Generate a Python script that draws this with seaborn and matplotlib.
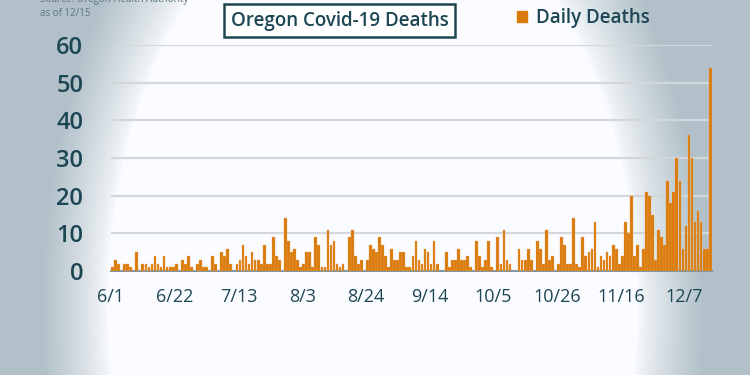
import numpy as np
import pandas as pd
import matplotlib.pyplot as plt
import seaborn as sns

# Daily Covid-19 deaths reported in Oregon, 6/1 through 12/15
deaths = [1, 3, 2, 0, 2, 2, 1, 0, 5, 0, 2, 2, 1, 2, 4, 2, 1, 4, 1, 1, 1,
          2, 0, 3, 2, 4, 1, 0, 2, 3, 1, 1, 0, 4, 2, 0, 5, 4, 6, 2, 0, 2,
          3, 7, 4, 2, 5, 3, 3, 2, 7, 2, 2, 9, 4, 3, 0, 14, 8, 5, 6, 3, 1,
          2, 5, 5, 1, 9, 7, 1, 1, 11, 7, 8, 2, 1, 2, 0, 9, 11, 4, 2, 3, 0,
          3, 7, 6, 5, 9, 7, 4, 1, 6, 3, 3, 5, 5, 1, 1, 4, 8, 3, 2, 6, 5,
          2, 8, 2, 0, 0, 5, 1, 3, 3, 6, 3, 3, 4, 1, 0, 8, 4, 1, 3, 8, 1,
          0, 9, 2, 11, 3, 2, 0, 0, 6, 3, 3, 6, 3, 0, 8, 6, 2, 11, 3, 4, 0,
          2, 9, 7, 2, 2, 14, 2, 1, 9, 4, 5, 6, 13, 1, 4, 3, 5, 4, 7, 6, 2,
          4, 13, 10, 20, 4, 7, 1, 6, 21, 20, 15, 3, 11, 9, 7, 24, 18, 21, 30, 24, 6,
          12, 36, 30, 13, 16, 13, 6, 6, 54]

dates = pd.date_range("2020-06-01", periods=len(deaths), freq="D")
df = pd.DataFrame({"date": dates.strftime("%m-%d"), "deaths": deaths})

orange = "#d97a0b"
teal = "#1d4654"

sns.set_style("white")
plt.rcParams["font.family"] = ["Open Sans", "DejaVu Sans"]

fig = plt.figure(figsize=(7.5, 3.75), dpi=100)

# background vignette: white centre, grey-blue edges
bg = fig.add_axes([0, 0, 1, 1], zorder=0)
yy, xx = np.mgrid[0:375, 0:750]
d = np.sqrt(((xx - 372) / 300.0) ** 2 + ((yy - 310) / 490.0) ** 2)
t = np.clip((d - 0.88) / 0.22, 0, 1) ** 0.8
grey = np.array([0.70, 0.76, 0.79])
img = (1 - t[..., None]) * np.array([0.985, 0.99, 1.0]) + t[..., None] * grey
bg.imshow(img, aspect="auto", extent=[0, 1, 0, 1])
bg.axis("off")

ax = fig.add_axes([0.148, 0.277, 0.801, 0.603], zorder=1)
ax.patch.set_alpha(0)

sns.barplot(data=df, x="date", y="deaths", color=orange, saturation=1,
            width=0.9, edgecolor="#eea55a", linewidth=0.25, ax=ax, zorder=3)

ax.set_xlim(-0.5, len(deaths) - 0.5)
ax.set_ylim(0, 60)
ax.set_yticks(range(0, 61, 10))
ax.yaxis.grid(True, color="#d3d7da", linewidth=1.6, zorder=0)
ax.set_axisbelow(True)

tick_idx = list(range(0, len(deaths), 21))
ax.set_xticks([i - 0.5 for i in tick_idx])
ax.set_xticklabels([f"{dates[i].month}/{dates[i].day}" for i in tick_idx])

for s in ["top", "right", "left"]:
    ax.spines[s].set_visible(False)
ax.spines["bottom"].set_color("#7d97a2")
ax.spines["bottom"].set_linewidth(1.5)
ax.tick_params(axis="x", length=7, width=1.5, color="#7d97a2", labelsize=13,
               labelcolor=teal, pad=5)
ax.tick_params(axis="y", length=0, labelsize=17, labelcolor=teal, pad=20)
for lab in ax.get_yticklabels():
    lab.set_fontweight("semibold")
ax.set_xlabel("")
ax.set_ylabel("")

fig.text(0.453, 0.945, "Oregon Covid-19 Deaths", ha="center", va="center",
         fontsize=13.5, color=teal, fontweight="semibold",
         bbox=dict(boxstyle="square,pad=0.36", facecolor="white",
                   edgecolor=teal, linewidth=1.8))

fig.patches.append(plt.Rectangle((0.689, 0.941), 0.0135, 0.03, color=orange,
                                 transform=fig.transFigure, figure=fig))
fig.text(0.714, 0.952, "Daily Deaths", ha="left", va="center", fontsize=13.5,
         color=teal, fontweight="semibold")

fig.text(0.053, 1.015, "Source: Oregon Health Authority\nas of 12/15",
         ha="left", va="top", fontsize=7, color="#5a7580", linespacing=1.3)

fig.savefig("out.png", dpi=100)
